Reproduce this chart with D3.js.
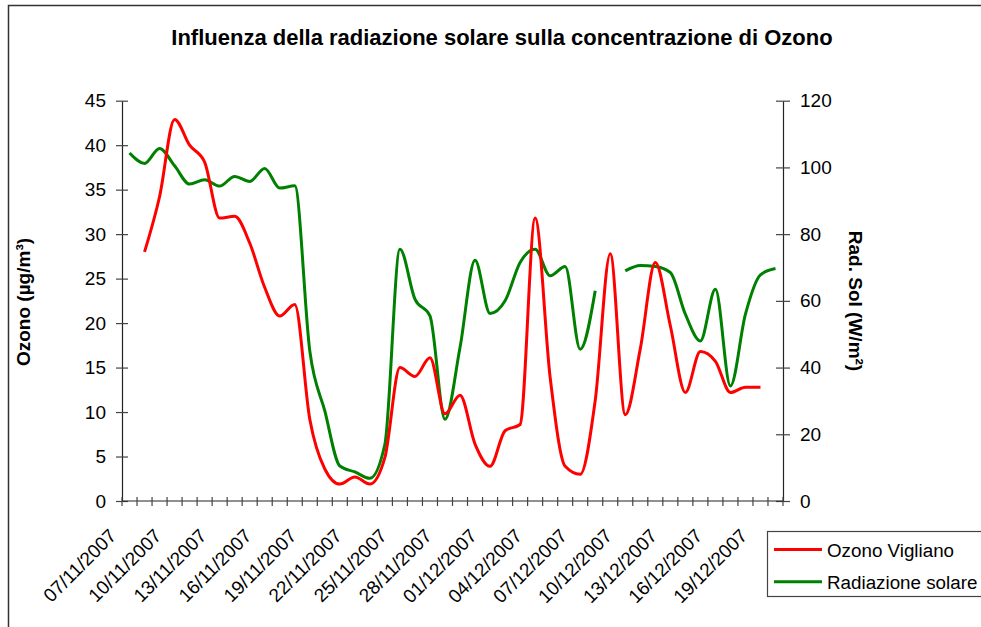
<!DOCTYPE html>
<html><head><meta charset="utf-8">
<script src="https://cdn.jsdelivr.net/npm/d3@7/dist/d3.min.js"></script>
<style>
html,body{margin:0;padding:0;background:#fff;}
svg{display:block;font-family:"Liberation Sans",Arial,sans-serif;}
</style></head>
<body>
<svg id="chart" width="981" height="627"></svg>
<script>
const dates = ["07/11/2007","08/11/2007","09/11/2007","10/11/2007","11/11/2007","12/11/2007","13/11/2007","14/11/2007","15/11/2007","16/11/2007","17/11/2007","18/11/2007","19/11/2007","20/11/2007","21/11/2007","22/11/2007","23/11/2007","24/11/2007","25/11/2007","26/11/2007","27/11/2007","28/11/2007","29/11/2007","30/11/2007","01/12/2007","02/12/2007","03/12/2007","04/12/2007","05/12/2007","06/12/2007","07/12/2007","08/12/2007","09/12/2007","10/12/2007","11/12/2007","12/12/2007","13/12/2007","14/12/2007","15/12/2007","16/12/2007","17/12/2007","18/12/2007","19/12/2007","20/12/2007"];
const ozonoVigliano = [null,28.0,34.2,42.9,40.0,38.1,31.8,32.0,29.0,24.0,20.8,22.1,9.2,3.6,1.9,2.7,1.9,4.9,15.0,14.0,16.1,9.8,11.9,6.4,3.9,7.9,8.6,31.8,13.9,3.9,3.0,11.3,27.8,9.7,17.1,26.8,19.7,12.2,16.8,15.7,12.2,12.8,12.8,null];
const radiazioneSolare = [104.3,101.2,105.7,100.5,95.0,96.3,94.4,97.3,95.8,99.7,93.8,94.5,45.0,27.0,10.5,8.7,6.8,17.0,75.5,60.5,55.5,24.5,46.0,72.2,56.2,60.0,71.5,75.5,67.5,70.3,45.5,63.0,null,69.0,70.6,70.3,68.5,56.0,48.0,63.5,34.5,56.0,67.8,69.7];
const leftTicks = [0,5,10,15,20,25,30,35,40,45];
const rightTicks = [0,20,40,60,80,100,120];
const xLabelDates = dates.filter((d,i)=>i%3===0);
const titleText = "Influenza della radiazione solare sulla concentrazione di Ozono";
const leftTitle = "Ozono (µg/m³)";
const rightTitle = "Rad. Sol (W/m²)";
const seriesNames = ["Ozono Vigliano","Radiazione solare"];
const seriesColors = ["#ff0000","#008000"];

const svg = d3.select("#chart");
const L = 122, R = 783, T = 100.7, B = 501;

const x = d3.scaleBand().domain(dates).range([L, R]).padding(0);
const yL = d3.scaleLinear().domain([0,45]).range([B, T]);
const yR = d3.scaleLinear().domain([0,120]).range([B, T]);
const cx = d => x(d) + x.bandwidth()/2;

// outer frame
svg.append("path").attr("d", `M8.5,627 L8.5,5.5 L981,5.5`).attr("fill","none").attr("stroke","#333").attr("stroke-width",1.5);

// title
svg.append("text").attr("x", 502).attr("y", 45).attr("text-anchor","middle")
  .attr("font-size", 22).attr("font-weight","bold").text(titleText);

// left axis
const gL = svg.append("g").attr("transform", `translate(${L},0)`)
  .call(d3.axisLeft(yL).tickValues(leftTicks).tickSize(6).tickPadding(10).tickSizeOuter(0));
gL.selectAll(".tick line").attr("x1", 6);
// right axis
const gR = svg.append("g").attr("transform", `translate(${R},0)`)
  .call(d3.axisRight(yR).tickValues(rightTicks).tickSize(7).tickPadding(10).tickSizeOuter(0));
gR.selectAll(".tick line").attr("x1", -7);
[gL,gR].forEach(g=>{
  g.select(".domain").attr("stroke","#222").attr("stroke-width",1.2);
  g.selectAll(".tick line").attr("stroke","#444").attr("stroke-width",1.2);
  g.selectAll(".tick text").attr("font-size",19).attr("fill","#000").attr("font-family","'Liberation Sans',Arial,sans-serif");
});

// bottom axis
const gB = svg.append("g");
gB.append("line").attr("x1", L).attr("x2", R).attr("y1", B).attr("y2", B).attr("stroke","#222").attr("stroke-width",1.2);
const bounds = dates.map(d => x(d)).concat([x.range()[1]]);
gB.selectAll("line.tk").data(bounds).join("line").attr("class","tk")
  .attr("x1", d=>d).attr("x2", d=>d).attr("y1", B-4).attr("y2", B+5)
  .attr("stroke","#444").attr("stroke-width",1.2);
gB.selectAll("text").data(xLabelDates).join("text")
  .attr("transform", d => `translate(${cx(d)-12},537) rotate(-45)`)
  .attr("text-anchor","end").attr("font-size",19).text(d=>d);

// axis titles
svg.append("text").attr("transform","translate(30,302) rotate(-90)").attr("text-anchor","middle")
  .attr("font-size",19).attr("font-weight","bold").text(leftTitle);
svg.append("text").attr("transform","translate(849,301) rotate(90)").attr("text-anchor","middle")
  .attr("font-size",19).attr("font-weight","bold").text(rightTitle);

// lines
const lineL = d3.line().defined(v => v != null).x((v,i)=>cx(dates[i])).y(v=>yL(v)).curve(d3.curveMonotoneX);
const lineR = d3.line().defined(v => v != null).x((v,i)=>cx(dates[i])).y(v=>yR(v)).curve(d3.curveMonotoneX);
svg.append("path").attr("d", lineR(radiazioneSolare)).attr("fill","none").attr("stroke",seriesColors[1]).attr("stroke-width",3).attr("stroke-linejoin","round");
svg.append("path").attr("d", lineL(ozonoVigliano)).attr("fill","none").attr("stroke",seriesColors[0]).attr("stroke-width",3).attr("stroke-linejoin","round");

// legend
const lg = svg.append("g");
lg.append("rect").attr("x",767.5).attr("y",531.5).attr("width",240).attr("height",65)
  .attr("fill","#fff").attr("stroke","#444").attr("stroke-width",1.2);
seriesNames.forEach((n,i)=>{
  const yy = 549.5 + i*32.3;
  lg.append("line").attr("x1",774).attr("x2",822).attr("y1",yy).attr("y2",yy).attr("stroke",seriesColors[i]).attr("stroke-width",3);
  lg.append("text").attr("x",827).attr("y",yy+7).attr("font-size",18.8).text(n);
});
</script>
</body></html>
